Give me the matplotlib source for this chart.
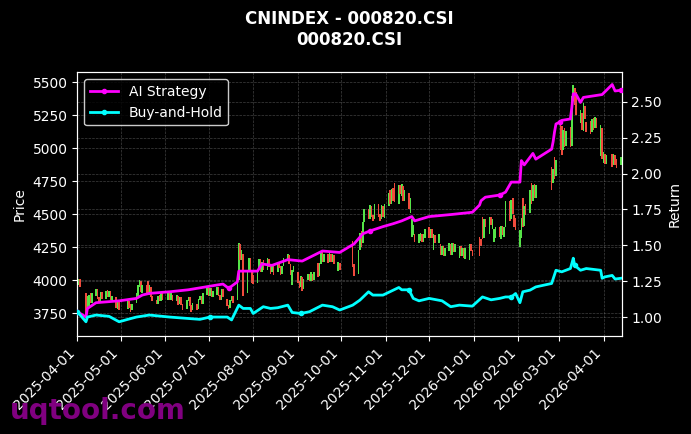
import datetime as dt

import matplotlib
matplotlib.use("Agg")
import matplotlib.dates as mdates
import matplotlib.pyplot as plt
import numpy as np
import pandas as pd
from matplotlib.ticker import FormatStrFormatter, MultipleLocator

# SSE trading calendar for the period shown
holidays = [
    "2025-04-04", "2025-05-01", "2025-05-02", "2025-05-05", "2025-06-02",
    "2025-10-01", "2025-10-02", "2025-10-03", "2025-10-06", "2025-10-07", "2025-10-08",
    "2026-01-01", "2026-01-02",
    "2026-02-16", "2026-02-17", "2026-02-18", "2026-02-19", "2026-02-20", "2026-02-23",
    "2026-04-06",
]
trade_days = pd.bdate_range("2025-04-01", "2026-04-13", freq="C", holidays=holidays)

# daily open / close, month by month
open_apr = [4030, 3960, 4010, 3900, 3760, 3800, 3900, 3830, 3880, 3930, 3870, 3840, 3910, 3860, 3925, 3870, 3915, 3850, 3870, 3780, 3840]
close_apr = [3960, 4010, 3950, 3740, 3880, 3890, 3830, 3900, 3930, 3860, 3830, 3910, 3860, 3920, 3870, 3920, 3850, 3880, 3790, 3840, 3770]
open_may = [3780, 3840, 3820, 3770, 3830, 3880, 3950, 3990, 3900, 3960, 3990, 3890, 3950, 3880, 3850, 3820, 3890, 3840, 3900]
close_may = [3840, 3790, 3760, 3820, 3900, 3960, 4000, 3910, 3960, 3890, 3890, 3960, 3870, 3840, 3820, 3880, 3840, 3900, 3850]
open_jun = [3850, 3900, 3850, 3890, 3840, 3880, 3820, 3870, 3820, 3780, 3840, 3870, 3810, 3770, 3820, 3780, 3850, 3880, 3820, 3890]
close_jun = [3910, 3850, 3900, 3840, 3890, 3810, 3870, 3810, 3770, 3850, 3870, 3800, 3760, 3830, 3770, 3860, 3880, 3820, 3900, 3950]
open_jul = [3950, 3880, 3940, 3870, 3890, 3950, 3890, 3850, 3930, 3860, 3810, 3790, 3840, 3880, 3850, 4000, 4270, 4150, 4200, 3900, 4070, 4170, 4080]
close_jul = [3880, 3940, 3870, 3920, 3950, 3880, 3850, 3930, 3870, 3800, 3780, 3850, 3880, 3830, 3990, 4280, 4150, 4230, 3880, 4080, 4170, 4060, 3980]
open_aug = [4040, 3980, 4080, 4160, 4060, 4150, 4080, 4160, 4110, 4060, 4110, 4060, 4140, 4110, 4050, 4110, 4150, 4190, 4120, 3960, 4060]
close_aug = [3970, 4080, 4160, 4060, 4140, 4080, 4170, 4100, 4050, 4120, 4040, 4140, 4090, 4040, 4110, 4170, 4200, 4120, 4040, 4080, 4110]
open_sep = [4060, 3990, 3950, 4020, 3930, 4000, 4050, 3990, 4050, 4000, 4130, 4030, 4120, 4230, 4140, 4200, 4140, 4200, 4140, 4190, 4070, 4130]
close_sep = [3980, 3940, 4030, 3920, 4010, 4050, 3990, 4060, 3990, 4060, 4020, 4130, 4220, 4140, 4200, 4130, 4210, 4140, 4200, 4120, 4140, 4080]
open_oct = [4300, 4120, 4050, 4230, 4370, 4280, 4440, 4540, 4460, 4560, 4490, 4460, 4580, 4500, 4460, 4560, 4470]
close_oct = [4100, 4030, 4230, 4360, 4250, 4440, 4540, 4460, 4570, 4480, 4450, 4580, 4480, 4450, 4570, 4480, 4580]
open_nov = [4560, 4680, 4580, 4700, 4740, 4580, 4720, 4640, 4710, 4600, 4660, 4510, 4330, 4340, 4350, 4280, 4300, 4350, 4290, 4320]
close_nov = [4660, 4580, 4690, 4600, 4590, 4720, 4650, 4730, 4600, 4680, 4540, 4620, 4460, 4420, 4290, 4350, 4360, 4290, 4350, 4390]
open_dec = [4400, 4320, 4390, 4230, 4340, 4280, 4270, 4190, 4260, 4180, 4220, 4270, 4190, 4280, 4210, 4170, 4260, 4180, 4240, 4160, 4150, 4270, 4230]
close_dec = [4320, 4390, 4320, 4350, 4280, 4350, 4190, 4260, 4180, 4240, 4280, 4190, 4280, 4210, 4270, 4260, 4180, 4240, 4170, 4240, 4270, 4220, 4180]
open_jan = [4330, 4310, 4480, 4320, 4460, 4350, 4480, 4390, 4290, 4320, 4400, 4310, 4410, 4330, 4400, 4600, 4460, 4620, 4490, 4470]
close_jan = [4180, 4260, 4310, 4460, 4400, 4480, 4420, 4460, 4390, 4400, 4330, 4410, 4340, 4400, 4600, 4450, 4610, 4500, 4400, 4380]
open_feb = [4250, 4320, 4620, 4410, 4580, 4510, 4740, 4600, 4730, 4620, 4860, 4740, 4930, 4790]
close_feb = [4380, 4470, 4400, 4560, 4490, 4680, 4580, 4720, 4620, 4720, 4680, 4840, 4770, 4910]
open_mar = [5180, 5170, 4990, 5150, 5020, 5160, 5020, 5360, 5460, 5430, 5190, 5270, 5130, 5320, 5200, 5210, 5120, 5230, 5150, 5230, 4940, 5150]
close_mar = [4990, 4950, 5140, 5010, 5130, 5010, 5400, 5480, 5330, 5250, 5290, 5140, 5340, 5220, 5120, 5110, 5220, 5140, 5240, 5150, 5180, 4920]
open_apr26 = [4890, 4960, 4880, 4960, 4870, 4950, 4920, 4870]
close_apr26 = [4970, 4880, 4950, 4860, 4960, 4870, 4850, 4930]

open_ = np.array(open_apr + open_may + open_jun + open_jul + open_aug + open_sep + open_oct
                 + open_nov + open_dec + open_jan + open_feb + open_mar + open_apr26, dtype=float)
close = np.array(close_apr + close_may + close_jun + close_jul + close_aug + close_sep + close_oct
                 + close_nov + close_dec + close_jan + close_feb + close_mar + close_apr26, dtype=float)
assert len(open_) == len(close) == len(trade_days)

# strategy curves (right axis)
ai_dates = pd.to_datetime([
    "2025-04-01", "2025-04-07", "2025-04-08", "2025-04-14", "2025-04-30", "2025-05-12", "2025-05-16",
    "2025-05-21", "2025-06-04", "2025-06-17", "2025-07-02", "2025-07-11", "2025-07-15", "2025-07-21",
    "2025-07-22", "2025-08-04", "2025-08-07", "2025-08-14", "2025-08-25", "2025-09-04", "2025-09-18",
    "2025-09-30", "2025-10-10", "2025-10-16", "2025-10-21", "2025-10-30", "2025-11-06", "2025-11-12",
    "2025-11-19", "2025-11-21", "2025-12-01", "2025-12-17", "2025-12-31", "2026-01-05", "2026-01-06",
    "2026-01-09", "2026-01-19", "2026-01-23", "2026-01-27", "2026-02-02", "2026-02-03", "2026-02-05",
    "2026-02-11", "2026-02-13", "2026-02-24", "2026-02-25", "2026-02-26", "2026-02-27", "2026-03-02",
    "2026-03-03", "2026-03-09", "2026-03-10", "2026-03-11", "2026-03-12", "2026-03-13", "2026-03-16",
    "2026-03-18", "2026-03-31", "2026-04-07", "2026-04-09", "2026-04-13",
])
ai_values = [
    1.037, 1.00, 1.06, 1.10, 1.113, 1.13, 1.153,
    1.165, 1.176, 1.19, 1.215, 1.23, 1.20, 1.245,
    1.32, 1.32, 1.37, 1.36, 1.40, 1.39, 1.46,
    1.45, 1.51, 1.58, 1.60, 1.63, 1.65, 1.67,
    1.70, 1.67, 1.70, 1.715, 1.73, 1.78, 1.81,
    1.835, 1.85, 1.87, 1.94, 1.94, 2.09, 2.06,
    2.14, 2.10, 2.17, 2.22, 2.29, 2.345, 2.36,
    2.37, 2.38, 2.46, 2.555, 2.555, 2.55, 2.495,
    2.53, 2.55, 2.62, 2.575, 2.58,
]
bh_dates = pd.to_datetime([
    "2025-04-01", "2025-04-07", "2025-04-08", "2025-04-14", "2025-04-23", "2025-04-30", "2025-05-06",
    "2025-05-12", "2025-05-21", "2025-06-04", "2025-06-17", "2025-06-25", "2025-07-02", "2025-07-14",
    "2025-07-17", "2025-07-22", "2025-07-25", "2025-07-30", "2025-08-01", "2025-08-08", "2025-08-13",
    "2025-08-18", "2025-08-25", "2025-08-28", "2025-09-03", "2025-09-09", "2025-09-18", "2025-09-25",
    "2025-09-30", "2025-10-09", "2025-10-14", "2025-10-20", "2025-10-23", "2025-10-30", "2025-11-10",
    "2025-11-12", "2025-11-17", "2025-11-20", "2025-11-24", "2025-12-01", "2025-12-10", "2025-12-16",
    "2025-12-22", "2025-12-31", "2026-01-07", "2026-01-13", "2026-01-19", "2026-01-23", "2026-01-27",
    "2026-01-30", "2026-02-02", "2026-02-04", "2026-02-09", "2026-02-13", "2026-02-24", "2026-02-27",
    "2026-03-03", "2026-03-09", "2026-03-10", "2026-03-11", "2026-03-12", "2026-03-16", "2026-03-20",
    "2026-03-30", "2026-03-31", "2026-04-02", "2026-04-07", "2026-04-09", "2026-04-13",
])
bh_values = [
    1.037, 0.967, 1.00, 1.014, 1.005, 0.967, 0.984,
    1.00, 1.014, 1.00, 0.99, 0.984, 1.00, 1.00,
    0.98, 1.083, 1.06, 1.06, 1.025, 1.072, 1.06,
    1.065, 1.083, 1.032, 1.025, 1.037, 1.083, 1.072,
    1.049, 1.083, 1.118, 1.176, 1.153, 1.153, 1.206,
    1.19, 1.19, 1.13, 1.113, 1.13, 1.113, 1.072,
    1.083, 1.076, 1.14, 1.12, 1.13, 1.14, 1.14,
    1.164, 1.10, 1.176, 1.1875, 1.21, 1.234, 1.326,
    1.315, 1.338, 1.373, 1.41, 1.36, 1.326, 1.338,
    1.326, 1.27, 1.28, 1.29, 1.265, 1.27,
]

UP = "#55e447"
DOWN = "#f04b3c"

fig = plt.figure(figsize=(6.91, 4.34), dpi=100, facecolor="black")
ax = fig.add_axes([0.1119, 0.2258, 0.7878, 0.6076])
ax.set_facecolor("black")

up = close >= open_
ax.bar(trade_days, np.abs(close - open_), bottom=np.minimum(open_, close), width=1.1,
       color=np.where(up, UP, DOWN), linewidth=0, zorder=2)

ax2 = ax.twinx()
ax2.plot(ai_dates, ai_values, color="magenta", lw=2, marker="o", ms=3, markevery=12,
         label="AI Strategy", zorder=3)
ax2.plot(bh_dates, bh_values, color="cyan", lw=2, marker="o", ms=3, markevery=12,
         label="Buy-and-Hold", zorder=3)

ax.set_xlim(dt.datetime(2025, 4, 1), dt.datetime(2026, 4, 13, 14))
ax.set_ylim(3576, 5576)
ax2.set_ylim(0.868, 2.705)

ax.xaxis.set_major_locator(mdates.MonthLocator())
ax.xaxis.set_major_formatter(mdates.DateFormatter("%Y-%m-%d"))
ax.yaxis.set_major_locator(MultipleLocator(250))
ax2.yaxis.set_major_locator(MultipleLocator(0.25))
ax2.yaxis.set_major_formatter(FormatStrFormatter("%.2f"))
plt.setp(ax.get_xticklabels(), rotation=45, ha="right")

for a in (ax, ax2):
    a.tick_params(colors="white", labelsize=10)
    for sp in a.spines.values():
        sp.set_color("white")
    a.grid(True, color="gray", linestyle="--", linewidth=0.5, alpha=0.5)

ax.set_ylabel("Price", color="white", fontsize=10)
ax2.set_ylabel("Return", color="white", fontsize=10)
ax.set_title("CNINDEX - 000820.CSI\n000820.CSI", color="white", fontsize=12,
             fontweight="bold", pad=20)

ax2.legend(loc="upper left", facecolor="black", edgecolor="white", labelcolor="white",
           fontsize=10)

fig.text(0.014, 0.035, "uqtool.com", color="purple", fontsize=20, fontweight="bold")

fig.savefig("out.png", dpi=100, facecolor="black")
